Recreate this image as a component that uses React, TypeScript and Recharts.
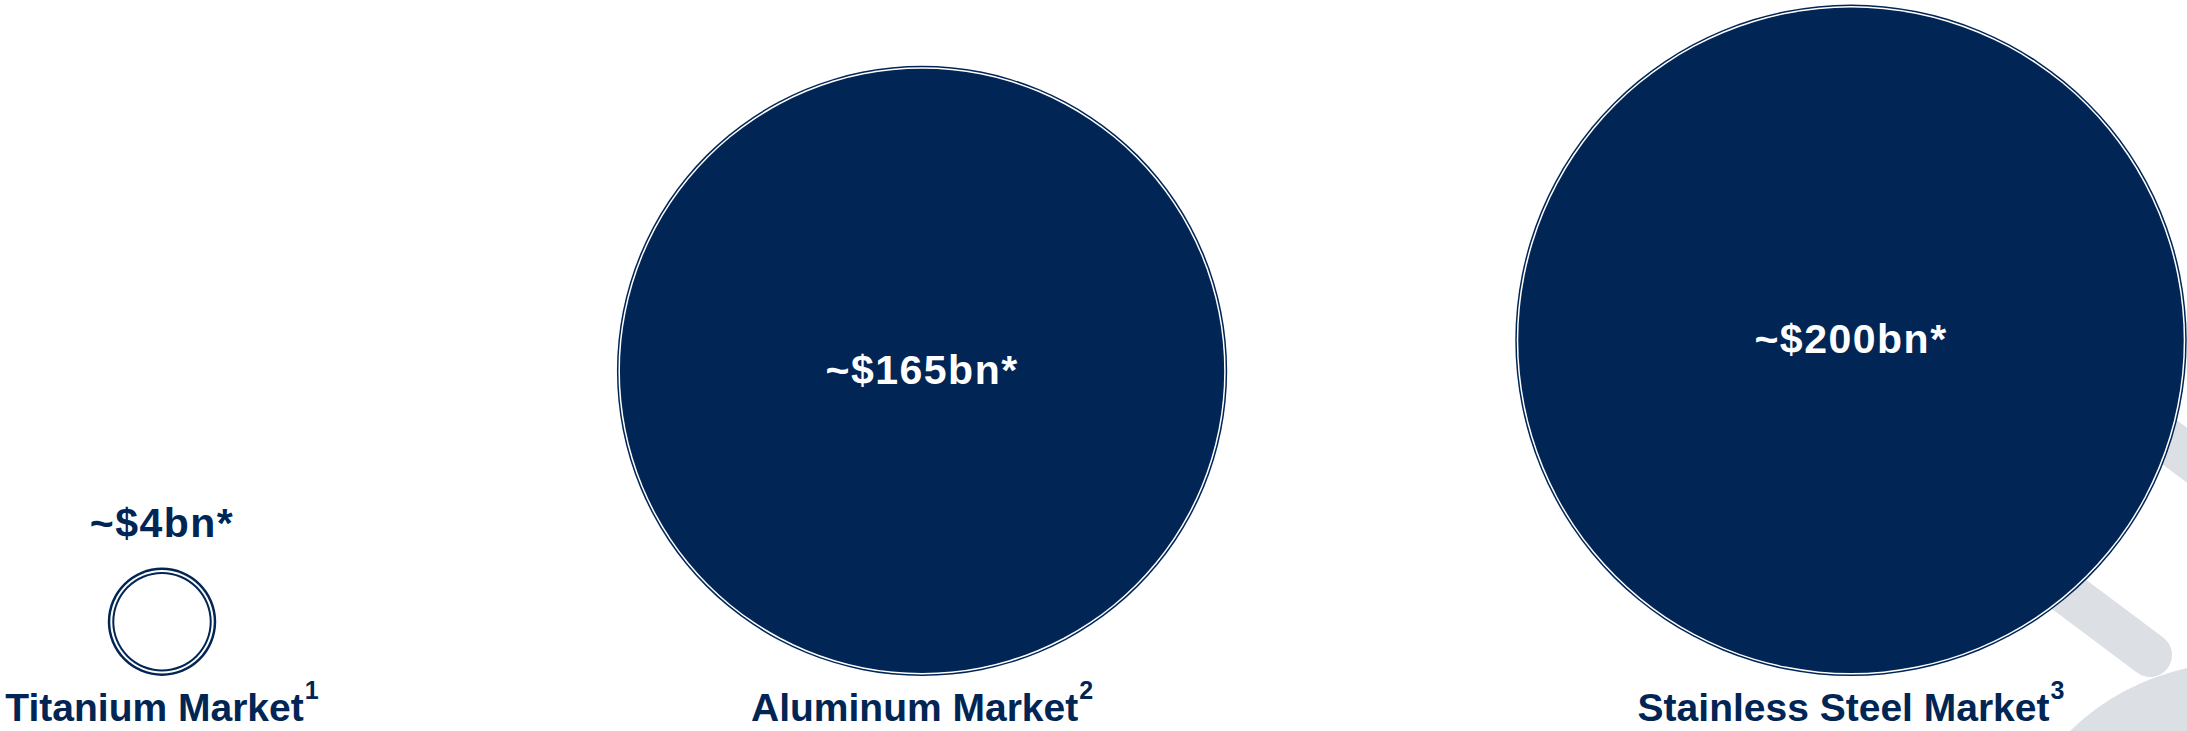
import { ScatterChart, Scatter, XAxis, YAxis, ZAxis } from "recharts";

const W = 2187;
const H = 731;
const NAVY = "#012554";
const GREY = "#dcdfe4";
const FONT = "'Liberation Sans', Arial, sans-serif";

// market sizes, US$bn
const markets = ["Titanium Market", "Aluminum Market", "Stainless Steel Market"];
const footnotes = ["1", "2", "3"];
const marketSize = [4, 165, 200];
const sizeLabels = ["~$4bn*", "~$165bn*", "~$200bn*"];
// horizontal slot of each bubble along the hidden x axis
const slots = [0, 0.9, 2];

const data = markets.map((name, i) => ({
  name,
  note: footnotes[i],
  x: slots[i],
  y: 0,
  value: marketSize[i],
  label: sizeLabels[i],
}));

// bubbles sit on the axis line, so lift each one by its radius
const Bubble = (props: any) => {
  const { cx, cy, width, payload } = props;
  const r = width / 2;
  const c = cy - r;
  const small = r < 100;
  const a = small ? 2.5 : 1.5;
  const b = small ? 2 : 1.5;
  return (
    <g>
      <circle cx={cx} cy={c} r={r} fill={NAVY} />
      <circle cx={cx} cy={c} r={r - a} fill="#fff" />
      <circle cx={cx} cy={c} r={r - a - b} fill={NAVY} />
      {small && <circle cx={cx} cy={c} r={r - a - b - 2} fill="#fff" />}
      <text
        x={cx}
        y={small ? c - r - 31 : c + 13}
        textAnchor="middle"
        fontFamily={FONT}
        fontWeight={700}
        fontSize={41}
        letterSpacing={1.5}
        fill={small ? NAVY : "#fff"}
      >
        {payload.label}
      </text>
    </g>
  );
};

const MarketTick = (props: any) => {
  const { x, y, index } = props;
  const d = data[index];
  if (!d) return null;
  return (
    <text
      x={x}
      y={y + 37}
      textAnchor="middle"
      fontFamily={FONT}
      fontWeight={700}
      fontSize={39}
      fill={NAVY}
    >
      {d.name}
      <tspan dx={1} dy={-22} fontSize={25}>
        {d.note}
      </tspan>
    </text>
  );
};

function Backdrop() {
  return (
    <svg width={W} height={H} style={{ position: "absolute", left: 0, top: 0 }}>
      <line x1={1700} y1={318} x2={2150} y2={655} stroke={GREY} strokeWidth={44} strokeLinecap="round" />
      <line x1={1900} y1={240} x2={2320} y2={555} stroke={GREY} strokeWidth={44} strokeLinecap="round" />
      <path d="M2070 731 Q2118 684 2187 668 L2187 731 Z" fill={GREY} />
    </svg>
  );
}

export default function App() {
  return (
    <div style={{ position: "relative", width: W, height: H, overflow: "hidden" }}>
      <style>{`body{margin:0}`}</style>
      <Backdrop />
      <div style={{ position: "absolute", left: 0, top: 0 }}>
        <ScatterChart width={W} height={H} margin={{ top: 0, right: 0, bottom: 0, left: 0 }}>
          <XAxis
            type="number"
            dataKey="x"
            domain={[0, 2]}
            ticks={slots}
            interval={0}
            padding={{ left: 162, right: 336 }}
            axisLine={false}
            tickLine={false}
            height={55}
            tick={<MarketTick />}
          />
          <YAxis type="number" dataKey="y" domain={[0, 1]} hide />
          <ZAxis type="number" dataKey="value" domain={[0, 200]} range={[Math.PI * 700, Math.PI * 112700]} />
          <Scatter data={data} shape={<Bubble />} isAnimationActive={false} />
        </ScatterChart>
      </div>
    </div>
  );
}
